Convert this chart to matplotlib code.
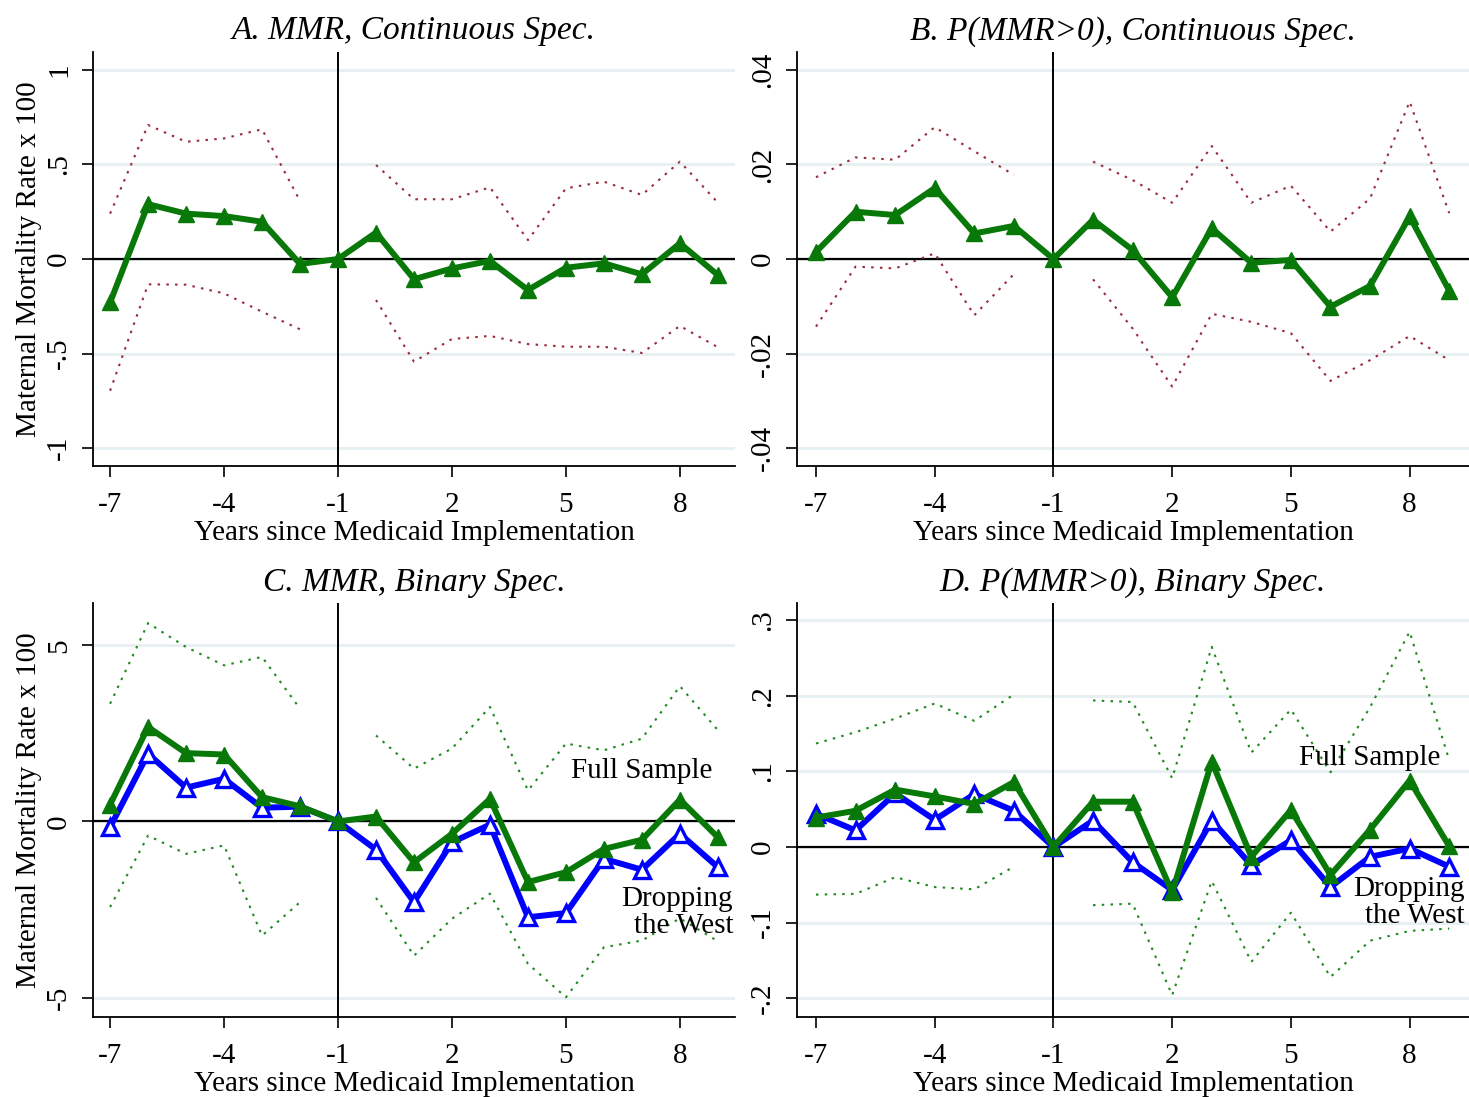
import matplotlib
matplotlib.use('Agg')
import matplotlib.pyplot as plt
import numpy as np

plt.rcParams['font.family'] = ['Liberation Serif', 'DejaVu Serif']

nan = np.nan
years = list(range(-7, 10))
xticks = [-7, -4, -1, 2, 5, 8]

# panel A: MMR, continuous spec
a_coef = [-0.23, 0.29, 0.24, 0.227, 0.197, -0.026, 0, 0.14, -0.107, -0.05, -0.01, -0.164, -0.046, -0.023, -0.081, 0.083, -0.085]
a_hi = [0.24, 0.709, 0.62, 0.638, 0.686, 0.307, nan, 0.497, 0.316, 0.316, 0.379, 0.10, 0.374, 0.409, 0.339, 0.515, 0.298]
a_lo = [-0.697, -0.134, -0.136, -0.182, -0.279, -0.372, nan, -0.217, -0.543, -0.423, -0.407, -0.45, -0.464, -0.464, -0.497, -0.354, -0.467]

# panel B: P(MMR>0), continuous spec
b_coef = [0.0015, 0.0100, 0.0093, 0.0150, 0.0054, 0.0070, 0, 0.0083, 0.0019, -0.0081, 0.0065, -0.0008, -0.0002, -0.0101, -0.0057, 0.0090, -0.0067]
b_hi = [0.0173, 0.0215, 0.0210, 0.0279, 0.0228, 0.0178, nan, 0.0206, 0.0167, 0.0119, 0.0239, 0.0119, 0.0155, 0.0058, 0.0128, 0.0333, 0.0097]
b_lo = [-0.0143, -0.0016, -0.0020, 0.0012, -0.0119, -0.0032, nan, -0.0043, -0.0147, -0.0270, -0.0116, -0.0133, -0.0157, -0.0258, -0.0214, -0.0163, -0.0214]

# panel C: MMR, binary spec
c_full = [0.48, 2.68, 1.94, 1.90, 0.69, 0.43, 0, 0.14, -1.16, -0.35, 0.64, -1.72, -1.44, -0.78, -0.52, 0.62, -0.45]
c_west = [-0.16, 1.92, 0.96, 1.21, 0.39, 0.42, 0, -0.80, -2.29, -0.59, -0.09, -2.72, -2.60, -1.06, -1.37, -0.35, -1.30]
c_hi = [3.34, 5.63, 4.95, 4.43, 4.67, 3.20, nan, 2.44, 1.50, 2.07, 3.25, 0.88, 2.21, 2.02, 2.35, 3.84, 2.59]
c_lo = [-2.43, -0.40, -0.92, -0.68, -3.24, -2.29, nan, -2.17, -3.81, -2.76, -2.05, -4.04, -4.99, -3.57, -3.38, -2.75, -3.40]

# panel D: P(MMR>0), binary spec
d_full = [0.039, 0.048, 0.076, 0.067, 0.057, 0.086, 0, 0.060, 0.060, -0.060, 0.113, -0.013, 0.049, -0.037, 0.023, 0.088, 0.001]
d_west = [0.044, 0.022, 0.071, 0.036, 0.070, 0.048, 0, 0.035, -0.020, -0.057, 0.035, -0.024, 0.009, -0.053, -0.013, -0.002, -0.026]
d_hi = [0.137, 0.152, 0.170, 0.190, 0.167, 0.202, nan, 0.194, 0.192, 0.091, 0.265, 0.125, 0.182, 0.099, 0.185, 0.285, 0.115]
d_lo = [-0.063, -0.062, -0.040, -0.053, -0.056, -0.026, nan, -0.077, -0.075, -0.196, -0.045, -0.152, -0.087, -0.172, -0.124, -0.111, -0.108]

GREEN = '#087808'
DOTGREEN = '#1f8a1f'
MAROON = '#9a2c3c'
GRID = '#e6eff1'

W, H = 1469, 1097
fig = plt.figure(figsize=(W / 100, H / 100), dpi=100)


def add_ax(l, t, r, b):
    return fig.add_axes([l / W, 1 - b / H, (r - l) / W, (b - t) / H])


def setup(ax, title, yt, ytl, ylim, xlim, ylabel=None):
    ax.set_xlim(*xlim)
    ax.set_ylim(*ylim)
    ax.set_xticks(xticks)
    ax.set_xticklabels([str(x) for x in xticks])
    ax.set_yticks(yt)
    ax.set_yticklabels(ytl, rotation=90, va='center')
    ax.tick_params(axis='both', direction='out', length=8, width=1.2, labelsize=21)
    ax.tick_params(axis='x', pad=11)
    ax.tick_params(axis='y', pad=7)
    for s in ['top', 'right']:
        ax.spines[s].set_visible(False)
    for s in ['left', 'bottom']:
        ax.spines[s].set_linewidth(1.3)
    for y in yt:
        ax.axhline(y, color=GRID, lw=2, zorder=0)
    ax.axhline(0, color='black', lw=1.6, zorder=1.5)
    ax.axvline(-1, color='black', lw=1.4, zorder=1.5)
    ax.set_title(title, fontsize=24, style='italic', pad=9)
    ax.set_xlabel('Years since Medicaid Implementation', fontsize=21, labelpad=1)
    if ylabel:
        ax.set_ylabel(ylabel, fontsize=21, labelpad=3)


ylab = 'Maternal Mortality Rate x 100'
dots = (0, (1.2, 3.0))

axA = add_ax(93, 52, 735, 466)
setup(axA, 'A. MMR, Continuous Spec.', [-1, -0.5, 0, 0.5, 1], ['-1', '-.5', '0', '.5', '1'],
      (-1.095, 1.095), (-7.45, 9.45), ylab)
axA.plot(years, a_hi, color=MAROON, lw=1.5, ls=dots, zorder=2)
axA.plot(years, a_lo, color=MAROON, lw=1.5, ls=dots, zorder=2)
axA.plot(years, a_coef, color=GREEN, lw=4.3, marker='^', ms=12, zorder=3)

axB = add_ax(797, 52, 1469, 466)
setup(axB, 'B. P(MMR>0), Continuous Spec.', [-0.04, -0.02, 0, 0.02, 0.04],
      ['-.04', '-.02', '0', '.02', '.04'], (-0.0438, 0.0438), (-7.48, 9.5))
axB.plot(years, b_hi, color=MAROON, lw=1.5, ls=dots, zorder=2)
axB.plot(years, b_lo, color=MAROON, lw=1.5, ls=dots, zorder=2)
axB.plot(years, b_coef, color=GREEN, lw=4.3, marker='^', ms=12, zorder=3)

axC = add_ax(93, 603, 735, 1017)
setup(axC, 'C. MMR, Binary Spec.', [-5, 0, 5], ['-5', '0', '5'],
      (-5.55, 6.2), (-7.45, 9.45), ylab)
axC.plot(years, c_hi, color=DOTGREEN, lw=1.5, ls=dots, zorder=2)
axC.plot(years, c_lo, color=DOTGREEN, lw=1.5, ls=dots, zorder=2)
axC.plot(years, c_west, color='blue', lw=4.3, marker='^', ms=11, mfc='white', mec='blue', mew=2.4, zorder=3)
axC.plot(years, c_full, color=GREEN, lw=4.3, marker='^', ms=12, zorder=4)
axC.text(8.85, 1.42, 'Full Sample', fontsize=21, ha='right', va='center', zorder=5)
axC.text(9.4, -2.58, 'Dropping\nthe West', fontsize=21, ha='right', va='center', linespacing=1.05, zorder=5)

axD = add_ax(797, 603, 1469, 1017)
setup(axD, 'D. P(MMR>0), Binary Spec.', [-0.2, -0.1, 0, 0.1, 0.2, 0.3],
      ['-.2', '-.1', '0', '.1', '.2', '.3'], (-0.225, 0.323), (-7.48, 9.5))
axD.plot(years, d_hi, color=DOTGREEN, lw=1.5, ls=dots, zorder=2)
axD.plot(years, d_lo, color=DOTGREEN, lw=1.5, ls=dots, zorder=2)
axD.plot(years, d_west, color='blue', lw=4.3, marker='^', ms=11, mfc='white', mec='blue', mew=2.4, zorder=3)
axD.plot(years, d_full, color=GREEN, lw=4.3, marker='^', ms=12, zorder=4)
axD.text(8.78, 0.1175, 'Full Sample', fontsize=21, ha='right', va='center', zorder=5)
axD.text(9.39, -0.073, 'Dropping\nthe West', fontsize=21, ha='right', va='center', linespacing=1.05, zorder=5)

fig.savefig('out.png', dpi=100, facecolor='white')
